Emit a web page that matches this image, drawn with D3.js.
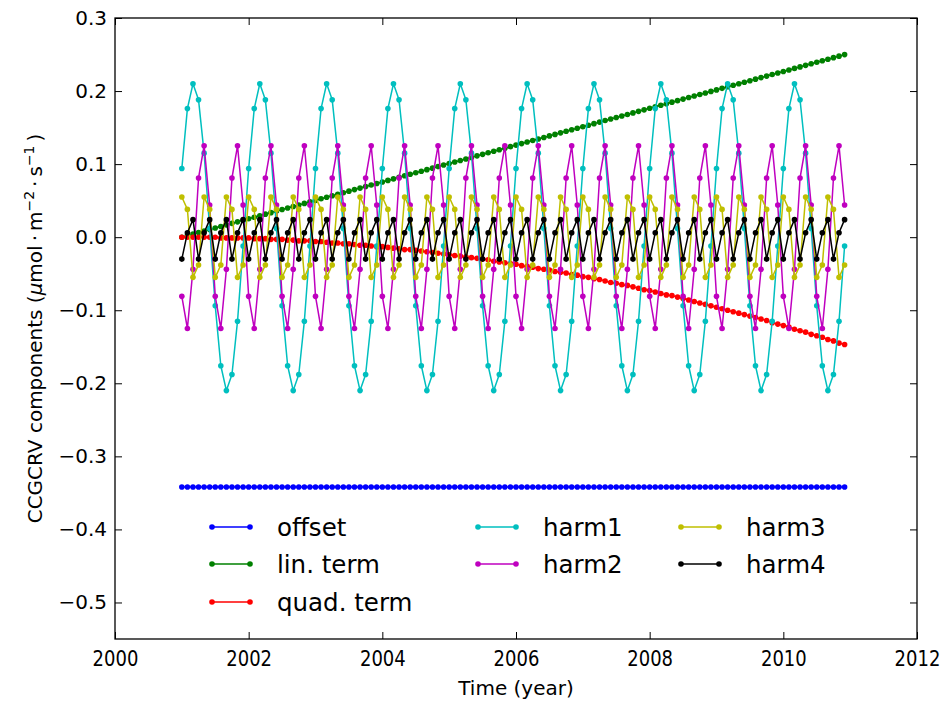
<!DOCTYPE html>
<html>
<head>
<meta charset="utf-8">
<script src="https://cdn.jsdelivr.net/npm/d3@7"></script>
<style>
  html, body { margin: 0; padding: 0; background: #ffffff; }
  svg { display: block; font-family: "DejaVu Sans", sans-serif; }
</style>
</head>
<body>
<svg id="chart" width="940" height="703"></svg>
<script>
// Monthly samples of the CCGCRV fit components, 2001-2010.
const years = [2001, 2002, 2003, 2004, 2005, 2006, 2007, 2008, 2009, 2010];
const monthsPerYear = 12;

const offsetValues = [
  -0.342, -0.342, -0.342, -0.342, -0.342, -0.342, -0.342, -0.342, -0.342, -0.342, -0.342, -0.342,
  -0.342, -0.342, -0.342, -0.342, -0.342, -0.342, -0.342, -0.342, -0.342, -0.342, -0.342, -0.342,
  -0.342, -0.342, -0.342, -0.342, -0.342, -0.342, -0.342, -0.342, -0.342, -0.342, -0.342, -0.342,
  -0.342, -0.342, -0.342, -0.342, -0.342, -0.342, -0.342, -0.342, -0.342, -0.342, -0.342, -0.342,
  -0.342, -0.342, -0.342, -0.342, -0.342, -0.342, -0.342, -0.342, -0.342, -0.342, -0.342, -0.342,
  -0.342, -0.342, -0.342, -0.342, -0.342, -0.342, -0.342, -0.342, -0.342, -0.342, -0.342, -0.342,
  -0.342, -0.342, -0.342, -0.342, -0.342, -0.342, -0.342, -0.342, -0.342, -0.342, -0.342, -0.342,
  -0.342, -0.342, -0.342, -0.342, -0.342, -0.342, -0.342, -0.342, -0.342, -0.342, -0.342, -0.342,
  -0.342, -0.342, -0.342, -0.342, -0.342, -0.342, -0.342, -0.342, -0.342, -0.342, -0.342, -0.342,
  -0.342, -0.342, -0.342, -0.342, -0.342, -0.342, -0.342, -0.342, -0.342, -0.342, -0.342, -0.342
];

const linTermValues = [
  0.0000, 0.0021, 0.0042, 0.0063, 0.0084, 0.0105, 0.0126, 0.0147, 0.0168, 0.0189, 0.0210, 0.0231,
  0.0252, 0.0273, 0.0294, 0.0315, 0.0336, 0.0357, 0.0378, 0.0399, 0.0420, 0.0441, 0.0462, 0.0483,
  0.0504, 0.0525, 0.0546, 0.0567, 0.0588, 0.0609, 0.0630, 0.0651, 0.0672, 0.0693, 0.0714, 0.0735,
  0.0756, 0.0777, 0.0798, 0.0819, 0.0840, 0.0861, 0.0882, 0.0903, 0.0924, 0.0945, 0.0966, 0.0987,
  0.1008, 0.1029, 0.1050, 0.1071, 0.1092, 0.1113, 0.1134, 0.1155, 0.1176, 0.1197, 0.1218, 0.1239,
  0.1260, 0.1281, 0.1302, 0.1323, 0.1344, 0.1365, 0.1386, 0.1407, 0.1428, 0.1449, 0.1470, 0.1491,
  0.1512, 0.1533, 0.1554, 0.1575, 0.1596, 0.1617, 0.1638, 0.1659, 0.1680, 0.1701, 0.1722, 0.1743,
  0.1764, 0.1785, 0.1806, 0.1827, 0.1848, 0.1869, 0.1890, 0.1911, 0.1932, 0.1953, 0.1974, 0.1995,
  0.2016, 0.2037, 0.2058, 0.2079, 0.2100, 0.2121, 0.2142, 0.2163, 0.2184, 0.2205, 0.2226, 0.2247,
  0.2268, 0.2289, 0.2310, 0.2331, 0.2352, 0.2373, 0.2394, 0.2415, 0.2436, 0.2457, 0.2478, 0.2499
];

const quadTermValues = [
   0.000,  0.000,  0.000,  0.000,  0.000,  0.000,  0.000, -0.001, -0.001, -0.001, -0.001, -0.001,
  -0.001, -0.002, -0.002, -0.002, -0.003, -0.003, -0.003, -0.004, -0.004, -0.005, -0.005, -0.005,
  -0.006, -0.006, -0.007, -0.008, -0.008, -0.009, -0.009, -0.010, -0.011, -0.011, -0.012, -0.013,
  -0.013, -0.014, -0.015, -0.016, -0.017, -0.017, -0.018, -0.019, -0.020, -0.021, -0.022, -0.023,
  -0.024, -0.025, -0.026, -0.027, -0.028, -0.029, -0.030, -0.031, -0.033, -0.034, -0.035, -0.036,
  -0.037, -0.039, -0.040, -0.041, -0.043, -0.044, -0.045, -0.047, -0.048, -0.049, -0.051, -0.052,
  -0.054, -0.055, -0.057, -0.058, -0.060, -0.062, -0.063, -0.065, -0.066, -0.068, -0.070, -0.072,
  -0.073, -0.075, -0.077, -0.079, -0.080, -0.082, -0.084, -0.086, -0.088, -0.090, -0.092, -0.094,
  -0.096, -0.098, -0.100, -0.102, -0.104, -0.106, -0.108, -0.110, -0.112, -0.114, -0.117, -0.119,
  -0.121, -0.123, -0.126, -0.128, -0.130, -0.133, -0.135, -0.137, -0.140, -0.142, -0.145, -0.147
];

const harm1Values = [
  0.094, 0.176, 0.210, 0.188, 0.115, 0.012, -0.094, -0.176, -0.210, -0.188, -0.115, -0.012,
  0.094, 0.176, 0.210, 0.188, 0.115, 0.012, -0.094, -0.176, -0.210, -0.188, -0.115, -0.012,
  0.094, 0.176, 0.210, 0.188, 0.115, 0.012, -0.094, -0.176, -0.210, -0.188, -0.115, -0.012,
  0.094, 0.176, 0.210, 0.188, 0.115, 0.012, -0.094, -0.176, -0.210, -0.188, -0.115, -0.012,
  0.094, 0.176, 0.210, 0.188, 0.115, 0.012, -0.094, -0.176, -0.210, -0.188, -0.115, -0.012,
  0.094, 0.176, 0.210, 0.188, 0.115, 0.012, -0.094, -0.176, -0.210, -0.188, -0.115, -0.012,
  0.094, 0.176, 0.210, 0.188, 0.115, 0.012, -0.094, -0.176, -0.210, -0.188, -0.115, -0.012,
  0.094, 0.176, 0.210, 0.188, 0.115, 0.012, -0.094, -0.176, -0.210, -0.188, -0.115, -0.012,
  0.094, 0.176, 0.210, 0.188, 0.115, 0.012, -0.094, -0.176, -0.210, -0.188, -0.115, -0.012,
  0.094, 0.176, 0.210, 0.188, 0.115, 0.012, -0.094, -0.176, -0.210, -0.188, -0.115, -0.012
];

const harm2Values = [
  -0.081, -0.125, -0.044, 0.081, 0.125, 0.044, -0.081, -0.125, -0.044, 0.081, 0.125, 0.044,
  -0.081, -0.125, -0.044, 0.081, 0.125, 0.044, -0.081, -0.125, -0.044, 0.081, 0.125, 0.044,
  -0.081, -0.125, -0.044, 0.081, 0.125, 0.044, -0.081, -0.125, -0.044, 0.081, 0.125, 0.044,
  -0.081, -0.125, -0.044, 0.081, 0.125, 0.044, -0.081, -0.125, -0.044, 0.081, 0.125, 0.044,
  -0.081, -0.125, -0.044, 0.081, 0.125, 0.044, -0.081, -0.125, -0.044, 0.081, 0.125, 0.044,
  -0.081, -0.125, -0.044, 0.081, 0.125, 0.044, -0.081, -0.125, -0.044, 0.081, 0.125, 0.044,
  -0.081, -0.125, -0.044, 0.081, 0.125, 0.044, -0.081, -0.125, -0.044, 0.081, 0.125, 0.044,
  -0.081, -0.125, -0.044, 0.081, 0.125, 0.044, -0.081, -0.125, -0.044, 0.081, 0.125, 0.044,
  -0.081, -0.125, -0.044, 0.081, 0.125, 0.044, -0.081, -0.125, -0.044, 0.081, 0.125, 0.044,
  -0.081, -0.125, -0.044, 0.081, 0.125, 0.044, -0.081, -0.125, -0.044, 0.081, 0.125, 0.044
];

const harm3Values = [
  0.055, 0.038, -0.055, -0.038, 0.055, 0.038, -0.055, -0.038, 0.055, 0.038, -0.055, -0.038,
  0.055, 0.038, -0.055, -0.038, 0.055, 0.038, -0.055, -0.038, 0.055, 0.038, -0.055, -0.038,
  0.055, 0.038, -0.055, -0.038, 0.055, 0.038, -0.055, -0.038, 0.055, 0.038, -0.055, -0.038,
  0.055, 0.038, -0.055, -0.038, 0.055, 0.038, -0.055, -0.038, 0.055, 0.038, -0.055, -0.038,
  0.055, 0.038, -0.055, -0.038, 0.055, 0.038, -0.055, -0.038, 0.055, 0.038, -0.055, -0.038,
  0.055, 0.038, -0.055, -0.038, 0.055, 0.038, -0.055, -0.038, 0.055, 0.038, -0.055, -0.038,
  0.055, 0.038, -0.055, -0.038, 0.055, 0.038, -0.055, -0.038, 0.055, 0.038, -0.055, -0.038,
  0.055, 0.038, -0.055, -0.038, 0.055, 0.038, -0.055, -0.038, 0.055, 0.038, -0.055, -0.038,
  0.055, 0.038, -0.055, -0.038, 0.055, 0.038, -0.055, -0.038, 0.055, 0.038, -0.055, -0.038,
  0.055, 0.038, -0.055, -0.038, 0.055, 0.038, -0.055, -0.038, 0.055, 0.038, -0.055, -0.038
];

const harm4Values = [
  -0.030, 0.006, 0.024, -0.030, 0.006, 0.024, -0.030, 0.006, 0.024, -0.030, 0.006, 0.024,
  -0.030, 0.006, 0.024, -0.030, 0.006, 0.024, -0.030, 0.006, 0.024, -0.030, 0.006, 0.024,
  -0.030, 0.006, 0.024, -0.030, 0.006, 0.024, -0.030, 0.006, 0.024, -0.030, 0.006, 0.024,
  -0.030, 0.006, 0.024, -0.030, 0.006, 0.024, -0.030, 0.006, 0.024, -0.030, 0.006, 0.024,
  -0.030, 0.006, 0.024, -0.030, 0.006, 0.024, -0.030, 0.006, 0.024, -0.030, 0.006, 0.024,
  -0.030, 0.006, 0.024, -0.030, 0.006, 0.024, -0.030, 0.006, 0.024, -0.030, 0.006, 0.024,
  -0.030, 0.006, 0.024, -0.030, 0.006, 0.024, -0.030, 0.006, 0.024, -0.030, 0.006, 0.024,
  -0.030, 0.006, 0.024, -0.030, 0.006, 0.024, -0.030, 0.006, 0.024, -0.030, 0.006, 0.024,
  -0.030, 0.006, 0.024, -0.030, 0.006, 0.024, -0.030, 0.006, 0.024, -0.030, 0.006, 0.024,
  -0.030, 0.006, 0.024, -0.030, 0.006, 0.024, -0.030, 0.006, 0.024, -0.030, 0.006, 0.024
];

const seriesNames = ["offset", "lin. term", "quad. term", "harm1", "harm2", "harm3", "harm4"];
const seriesValues = [offsetValues, linTermValues, quadTermValues, harm1Values, harm2Values, harm3Values, harm4Values];
const seriesColors = ["#0000ff", "#008000", "#ff0000", "#00bfbf", "#bf00bf", "#bfbf00", "#000000"];

const xTicks = [2000, 2002, 2004, 2006, 2008, 2010, 2012];
const yTicks = [0.3, 0.2, 0.1, 0.0, -0.1, -0.2, -0.3, -0.4, -0.5];

// Decimal year of every monthly sample.
const times = years.flatMap(y => d3.range(monthsPerYear).map(m => y + m / monthsPerYear));

const svg = d3.select("#chart");
const plot = { left: 115, right: 917, top: 18, bottom: 639 };

const x = d3.scaleLinear().domain([2000, 2012]).range([plot.left, plot.right]);
const y = d3.scaleLinear().domain([-0.55, 0.3]).range([plot.bottom, plot.top]);

const tickFont = 20;

// Axes: ticks point inward on all four sides.
const axisBottom = d3.axisBottom(x).tickValues(xTicks).tickFormat(d3.format("d"))
  .tickSizeInner(-7).tickSizeOuter(0).tickPadding(12);
const axisTop = d3.axisTop(x).tickValues(xTicks).tickFormat("")
  .tickSizeInner(-7).tickSizeOuter(0);
const axisLeft = d3.axisLeft(y).tickValues(yTicks).tickFormat(d3.format(".1f"))
  .tickSizeInner(-7).tickSizeOuter(0).tickPadding(8);
const axisRight = d3.axisRight(y).tickValues(yTicks).tickFormat("")
  .tickSizeInner(-7).tickSizeOuter(0);

function styleAxis(g) {
  g.select(".domain").remove();
  g.selectAll(".tick line").attr("stroke", "#000").attr("stroke-width", 1);
  g.selectAll(".tick text")
    .attr("fill", "#000")
    .style("font-family", "'DejaVu Sans', sans-serif")
    .style("font-size", tickFont + "px");
}

const xAxisG = svg.append("g").attr("transform", `translate(0,${plot.bottom})`).call(axisBottom).call(styleAxis);
// Year labels are set slightly narrow and tall so the last one stays inside the page.
xAxisG.selectAll(".tick text").attr("transform", "scale(0.9,1.05)");
svg.append("g").attr("transform", `translate(0,${plot.top})`).call(axisTop).call(styleAxis);
svg.append("g").attr("transform", `translate(${plot.left},0)`).call(axisLeft).call(styleAxis);
svg.append("g").attr("transform", `translate(${plot.right},0)`).call(axisRight).call(styleAxis);

// Series: thin lines with small round point markers.
const line = d3.line().x((d, i) => x(times[i])).y(d => y(d));

const seriesGroup = svg.append("g");
seriesValues.forEach((values, k) => {
  const g = seriesGroup.append("g");
  g.append("path")
    .datum(values)
    .attr("d", line)
    .attr("fill", "none")
    .attr("stroke", seriesColors[k])
    .attr("stroke-width", 1.5)
    .attr("stroke-linejoin", "round");
  g.selectAll("circle")
    .data(values)
    .join("circle")
    .attr("cx", (d, i) => x(times[i]))
    .attr("cy", d => y(d))
    .attr("r", 2.8)
    .attr("fill", seriesColors[k]);
});

// Frame
svg.append("rect")
  .attr("x", plot.left).attr("y", plot.top)
  .attr("width", plot.right - plot.left).attr("height", plot.bottom - plot.top)
  .attr("fill", "none").attr("stroke", "#000").attr("stroke-width", 1.3);

// Axis titles
svg.append("text")
  .attr("x", (plot.left + plot.right) / 2)
  .attr("y", 695)
  .attr("text-anchor", "middle")
  .style("font-size", "20px")
  .text("Time (year)");

const yLabel = svg.append("text")
  .attr("transform", `translate(42,${(plot.top + plot.bottom) / 2}) rotate(-90)`)
  .attr("text-anchor", "middle")
  .style("font-size", "20px");
yLabel.append("tspan").text("CCGCRV components (");
yLabel.append("tspan").style("font-style", "italic").text("\u03bc");
yLabel.append("tspan").text("mol\u2009\u00b7\u2009m");
yLabel.append("tspan").attr("dy", -8).style("font-size", "14px").text("\u22122");
yLabel.append("tspan").attr("dy", 8).text("\u2009\u00b7\u2009s");
yLabel.append("tspan").attr("dy", -8).style("font-size", "14px").text("\u22121");
yLabel.append("tspan").attr("dy", 8).text("\u2009)");

// Legend: three columns, filled column by column, no frame.
const legendCols = [[0, 1, 2], [3, 4], [5, 6]];
const legendColX = [212, 478, 681];
const legendRowY = [527, 564, 602];
const legendLineLen = 38;
const legend = svg.append("g");
legendCols.forEach((col, c) => {
  col.forEach((k, r) => {
    const gx = legendColX[c], gy = legendRowY[r];
    const item = legend.append("g");
    item.append("line")
      .attr("x1", gx).attr("x2", gx + legendLineLen)
      .attr("y1", gy).attr("y2", gy)
      .attr("stroke", seriesColors[k]).attr("stroke-width", 1.5);
    item.selectAll("circle")
      .data([gx, gx + legendLineLen])
      .join("circle")
      .attr("cx", d => d).attr("cy", gy).attr("r", 2.8)
      .attr("fill", seriesColors[k]);
    item.append("text")
      .attr("x", gx + legendLineLen + 27)
      .attr("y", gy + 9)
      .style("font-size", "24.5px")
      .attr("fill", "#000")
      .text(seriesNames[k]);
  });
});
</script>
</body>
</html>
